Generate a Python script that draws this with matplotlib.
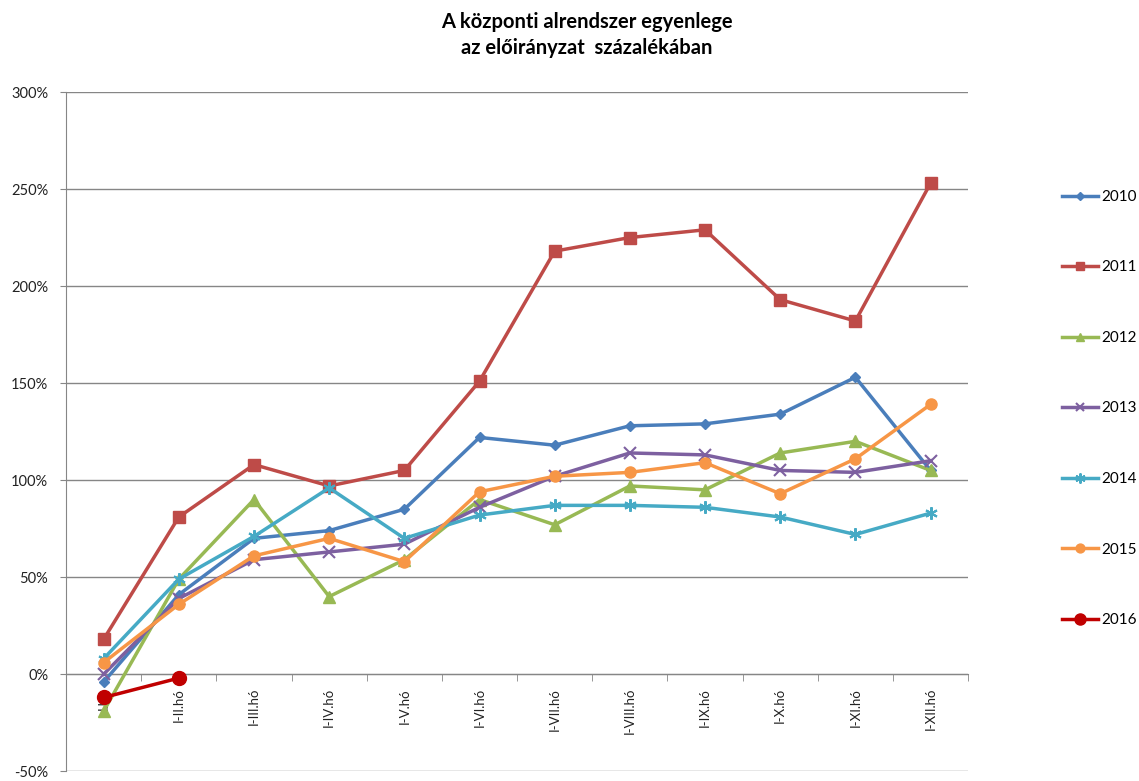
import matplotlib.pyplot as plt
import numpy as np

plt.rcParams['font.family'] = ['Lato', 'DejaVu Sans']

# Category labels (months, cumulative)
months = ['I.hó', 'I-II.hó', 'I-III.hó', 'I-IV.hó', 'I-V.hó', 'I-VI.hó',
          'I-VII.hó', 'I-VIII.hó', 'I-IX.hó', 'I-X.hó', 'I-XI.hó', 'I-XII.hó']

# Balance as % of appropriation
y2010 = [-4, 41, 70, 74, 85, 122, 118, 128, 129, 134, 153, 105]
y2011 = [18, 81, 108, 97, 105, 151, 218, 225, 229, 193, 182, 253]
y2012 = [-19, 49, 90, 40, 59, 90, 77, 97, 95, 114, 120, 105]
y2013 = [0, 39, 59, 63, 67, 86, 102, 114, 113, 105, 104, 110]
y2014 = [8, 49, 71, 96, 70, 82, 87, 87, 86, 81, 72, 83]
y2015 = [6, 36, 61, 70, 58, 94, 102, 104, 109, 93, 111, 139]
y2016 = [-12, -2]

series = [
    ('2010', y2010, '#4A7EBB', 'D', 5),
    ('2011', y2011, '#BE4B48', 's', 8),
    ('2012', y2012, '#98B954', '^', 8),
    ('2013', y2013, '#7D60A0', 'x', 8),
    ('2014', y2014, '#46AAC5', (6, 2, 0), 9),
    ('2015', y2015, '#F79646', 'o', 8),
    ('2016', y2016, '#C00000', 'o', 10),
]

fig = plt.figure(figsize=(11.39, 7.81), dpi=100)
ax = fig.add_axes([0.058, 0.0125, 0.792, 0.8697])

x = np.arange(len(months))
for name, vals, color, marker, ms in series:
    ax.plot(x[:len(vals)], vals, color=color, lw=2.5, marker=marker,
            ms=ms, mew=1.5 if marker in ('x', (6, 2, 0)) else 1,
            mec=color, mfc=color, label=name, zorder=3)

ax.set_ylim(-50, 300)
ax.set_xlim(-0.5, len(months) - 0.5)
ax.set_yticks(np.arange(-50, 301, 50))
ax.set_yticklabels(['%d%%' % v for v in np.arange(-50, 301, 50)])
ax.yaxis.grid(True, color='#868686', lw=1)
ax.set_axisbelow(True)

for s in ['top', 'right']:
    ax.spines[s].set_visible(False)
ax.spines['left'].set_color('#868686')
ax.spines['bottom'].set_color('#868686')
ax.spines['bottom'].set_position(('data', 0))

ax.set_xticks(x)
ax.set_xticklabels(months, rotation=90, fontsize=9.5, color='#222222')
ax.set_xticks(np.arange(-0.5, len(months), 1), minor=True)
ax.tick_params(axis='x', which='major', length=0, pad=10)
ax.tick_params(axis='x', which='minor', length=5, color='#868686')
ax.tick_params(axis='y', length=4.3, color='#868686', labelsize=10.5,
               labelcolor='#222222', pad=8.5)

fig.text(0.515, 0.955, 'A központi alrendszer egyenlege\naz előirányzat  százalékában',
         ha='center', va='center', fontsize=14.5, fontweight='bold',
         linespacing=1.4)

fig.legend(loc='center left', bbox_to_anchor=(0.926, 0.477), frameon=False,
           fontsize=11, labelspacing=3.7, handlelength=2.35,
           handletextpad=0.2, borderpad=0, markerscale=0.8)

fig.savefig('out.png', dpi=100)
